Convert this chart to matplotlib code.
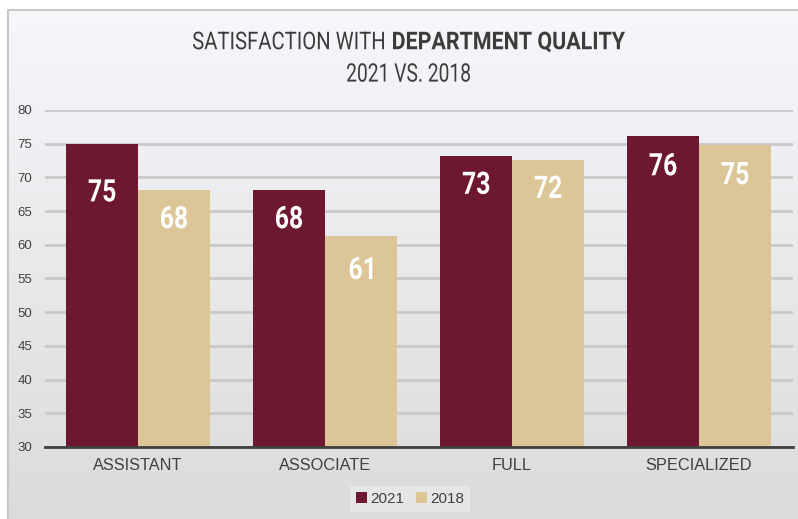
import numpy as np
import matplotlib.pyplot as plt
from matplotlib.patches import Rectangle, PathPatch
from matplotlib.textpath import TextPath
from matplotlib.font_manager import FontProperties
from matplotlib.transforms import Affine2D, IdentityTransform

categories = ["ASSISTANT", "ASSOCIATE", "FULL", "SPECIALIZED"]
values_2021 = [74.9, 68.1, 73.2, 76.1]
values_2018 = [68.1, 61.3, 72.6, 74.8]
labels_2021 = ["75", "68", "73", "76"]
labels_2018 = ["68", "61", "72", "75"]

c2021 = "#6d1830"
c2018 = "#dcc597"
H = 519


def narrow_text(fig, s, x, y, size, weight="normal", color="k", ha="center", sx=0.78, width=None):
    # condensed text: Roboto squeezed horizontally; x/y in pixels from top-left, y = middle of caps
    tp = TextPath((0, 0), s, size=size, prop=FontProperties(family="Roboto", weight=weight))
    ext = tp.get_extents()
    if width is not None:
        sx = width / ext.width
    wdt = ext.width * sx
    cap = size * 0.711
    if ha == "center":
        x0 = x - wdt / 2 - ext.x0 * sx
    else:
        x0 = x - ext.x0 * sx
    tr = Affine2D().scale(sx, 1).translate(x0, (H - y) - cap / 2)
    p = PathPatch(tr.transform_path(tp), facecolor=color, edgecolor="none",
                  transform=IdentityTransform(), zorder=10)
    fig.add_artist(p)
    return wdt


fig = plt.figure(figsize=(7.98, 5.19), dpi=100)
fig.patch.set_facecolor("white")

# gradient background panel with thin border
bg = fig.add_axes([0, 0, 1, 1], zorder=-10)
grad = np.linspace(0, 1, 256)[:, None]
top = np.array([0.965, 0.969, 0.984])
bot = np.array([0.86, 0.86, 0.86])
img = top + (bot - top) * grad[:, :, None]
bg.imshow(img, aspect="auto", extent=[8 / 798, 1, 0, 1 - 10 / 519], origin="upper")
bg.add_patch(Rectangle((8 / 798, -0.01), 1, 1 - 10 / 519 + 0.01, fill=False,
                       edgecolor="#c8c8c8", linewidth=1.5))
bg.set_xlim(0, 1)
bg.set_ylim(0, 1)
bg.axis("off")

ax = fig.add_axes([44.5 / 798, 1 - 447 / 519, 748 / 798, 337 / 519])
ax.patch.set_alpha(0)

x = np.arange(len(categories))
w = 0.385
b1 = ax.bar(x - w / 2, [v - 30 for v in values_2021], w, bottom=30, color=c2021, label="2021", zorder=3)
b2 = ax.bar(x + w / 2, [v - 30 for v in values_2018], w, bottom=30, color=c2018, label="2018", zorder=3)

ax.set_ylim(30, 80)
ax.set_xlim(-0.5, 3.5)
ax.set_yticks(range(30, 81, 5))
ax.yaxis.grid(True, color="#c9c9cc", linewidth=2, zorder=0)
ax.set_axisbelow(True)
for s in ["top", "right", "left"]:
    ax.spines[s].set_visible(False)
ax.spines["bottom"].set_color("#404040")
ax.spines["bottom"].set_linewidth(2)
ax.spines["bottom"].set_zorder(4)
ax.tick_params(axis="y", length=0, pad=9, labelsize=9.5, labelcolor="#404040")
ax.tick_params(axis="x", length=0, pad=8, labelsize=11.8, labelcolor="#404040")
ax.set_xticks(x)
ax.set_xticklabels(categories, family=["Liberation Sans", "DejaVu Sans"])
for t in ax.get_yticklabels():
    t.set_family(["Liberation Sans", "DejaVu Sans"])

# value labels inside bars (pixel offsets below bar top)
offs_2021 = [46, 27, 27, 28]
offs_2018 = [27, 32, 27, 28]
for i in range(len(categories)):
    for xv, val, lab, off in [(x[i] - w / 2, values_2021[i], labels_2021[i], offs_2021[i]),
                              (x[i] + w / 2, values_2018[i], labels_2018[i], offs_2018[i])]:
        px, py = ax.transData.transform((xv, val))
        narrow_text(fig, lab, px, (H - py) + off, 31, weight="bold", color="white", sx=0.8)

# title with mixed weight
tcol = "#3c3c3c"
narrow_text(fig, "SATISFACTION WITH", 193, 40.5, 24.5, color=tcol, ha="left", width=191)
narrow_text(fig, "DEPARTMENT QUALITY", 393, 40.5, 24.5, weight="bold", color=tcol, ha="left", width=232)
narrow_text(fig, "2021 VS. 2018", 408.5, 72.5, 25.5, color=tcol, width=123)

leg = fig.legend(handles=[b1, b2], labels=["2021", "2018"], loc="center",
                 bbox_to_anchor=(410 / 798, 1 - 499 / 519), ncol=2, frameon=True,
                 handlelength=0.7, handleheight=0.7, handletextpad=0.2, columnspacing=0.8,
                 prop={"family": ["Liberation Sans", "DejaVu Sans"], "size": 11},
                 borderpad=0.4, fancybox=False)
leg.get_frame().set_facecolor("#e6e6e6")
leg.get_frame().set_edgecolor("none")
leg.get_frame().set_alpha(1)
for t in leg.get_texts():
    t.set_color("#404040")

fig.savefig("out.png", dpi=100)
